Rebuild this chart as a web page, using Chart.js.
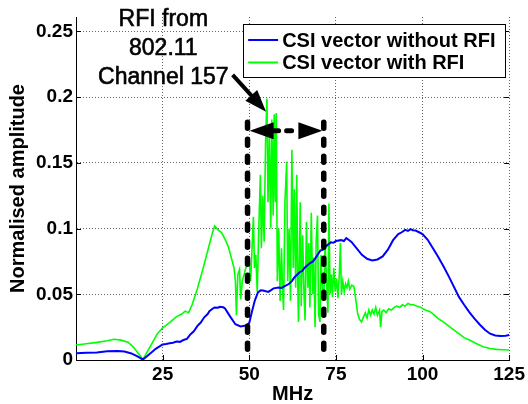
<!DOCTYPE html>
<html>
<head>
<meta charset="utf-8">
<script src="https://cdn.jsdelivr.net/npm/chart.js@4.4.1/dist/chart.umd.min.js"></script>
<style>
  html, body { margin: 0; padding: 0; background: #fff; }
  #wrap { width: 528px; height: 404px; position: relative; }
</style>
</head>
<body>
<div id="wrap"><canvas id="csi" width="528" height="404"></canvas></div>
<script>
// Frequency axis (MHz) and normalised CSI amplitude, channel without interference
const blueMHz = [0, 3, 6, 9, 12, 14, 16, 18, 19.3, 21, 23, 25, 26, 27, 28, 29, 30, 31, 32, 33, 34, 35, 36, 37, 38, 38.5, 39.5, 40, 41, 41.5, 42.5, 43, 44.5, 46, 47.5, 49, 50, 50.8, 51.6, 52.5, 53.3, 54, 55.5, 56.3, 57, 58.5, 59.3, 60, 61.5, 62.3, 63, 64.5, 65.3, 66, 67.5, 68.3, 69, 70.5, 71.3, 72, 73.5, 74.3, 75, 76.5, 77.3, 78, 79.5, 81, 82.5, 84, 85.5, 87, 88.5, 90, 91.5, 93, 94, 95, 95.8, 96.5, 97.2, 98, 99, 100, 101.5, 103, 104.5, 106, 107.5, 109, 110.5, 112, 113.5, 115, 116.5, 118, 119.5, 121, 122.5, 124, 125];
const blueAmp = [0.0052, 0.0055, 0.0058, 0.0066, 0.0068, 0.0064, 0.0050, 0.0024, 0.0003, 0.0040, 0.0085, 0.0118, 0.0122, 0.0128, 0.0131, 0.0140, 0.0138, 0.0152, 0.0160, 0.0195, 0.0218, 0.0258, 0.0285, 0.0325, 0.0350, 0.0372, 0.0392, 0.0400, 0.0398, 0.0405, 0.0401, 0.0392, 0.0330, 0.0272, 0.0255, 0.0262, 0.0282, 0.0370, 0.0452, 0.0515, 0.0530, 0.0528, 0.0518, 0.0532, 0.0545, 0.0552, 0.0548, 0.0558, 0.0580, 0.0600, 0.0628, 0.0668, 0.0678, 0.0702, 0.0738, 0.0748, 0.0772, 0.0832, 0.0840, 0.0862, 0.0895, 0.0892, 0.0905, 0.0912, 0.0905, 0.0928, 0.0898, 0.0850, 0.0800, 0.0770, 0.0758, 0.0765, 0.0788, 0.0840, 0.0912, 0.0958, 0.0972, 0.0990, 0.0982, 0.0996, 0.0988, 0.0985, 0.0972, 0.0958, 0.0915, 0.0850, 0.0785, 0.0715, 0.0640, 0.0560, 0.0480, 0.0420, 0.0365, 0.0315, 0.0270, 0.0230, 0.0200, 0.0186, 0.0182, 0.0185, 0.0190];

// Same link with 802.11 channel 157 interference
const greenMHz = [0, 3, 6, 9, 11, 13, 15, 16.5, 18, 19.3, 20.5, 22, 23.5, 25, 27, 29, 30.5, 31.5, 32.5, 33.5, 35, 36.5, 38, 39.3, 40, 41, 42, 43, 44, 45, 45.6, 46, 46.3, 46.7, 47.2, 47.5, 48, 49,
  50, 50.4, 50.8, 51.2, 51.5, 51.9, 52.3, 52.7, 53.2, 53.5, 53.9, 54.3, 54.7, 55.1, 55.4, 55.8, 56.2, 56.5, 56.9, 57.2, 57.5, 57.8, 58.1, 58.5, 58.9, 59.3, 59.6, 59.9, 60.3, 60.8, 61.1, 61.5, 61.9, 62.3, 62.7, 63.0, 63.4, 63.7, 64.0, 64.2, 64.7, 65.0, 65.4, 65.8, 66.1, 66.5, 66.9, 67.2, 67.5, 67.9, 68.3, 68.6, 69.0, 69.3, 69.7, 70.0, 70.4, 70.7, 71.1, 71.5, 71.9, 72.3, 72.7, 73.0, 73.3, 73.7, 74.0, 74.4, 74.8, 75.2, 75.6, 76.0, 76.3, 76.6, 77.0, 77.4, 77.8, 78.2, 78.6, 79.0, 79.6, 80.2, 80.8, 81.3, 81.8, 82.4, 83.0, 83.5, 84.0, 84.5, 85.0, 85.5, 86.0, 86.5, 87.0, 87.6, 87.9, 88.3, 88.8, 89.5, 90.2, 91.0, 91.8, 92.6, 93.4, 94.2, 95.0, 95.8, 96.6, 97.4, 98.3, 99.5, 100.8, 102.2, 103.5, 104.8, 106, 107.5, 109, 110.5, 112, 113.7, 115.5, 117.5, 119.5, 121.4, 123.2, 125];
const greenAmp = [0.0114, 0.0124, 0.0134, 0.0147, 0.0158, 0.0151, 0.0136, 0.0100, 0.0050, 0.0005, 0.0060, 0.0130, 0.0200, 0.0245, 0.0285, 0.0330, 0.0350, 0.0372, 0.0360, 0.0420, 0.0540, 0.0680, 0.0830, 0.0960, 0.1020, 0.0990, 0.0970, 0.0920, 0.0860, 0.0760, 0.0700, 0.0600, 0.0340, 0.0650, 0.0690, 0.0460, 0.0600, 0.0700,
  0.0750, 0.0600, 0.0850, 0.1090, 0.0700, 0.0800, 0.0520, 0.0950, 0.1410, 0.0850, 0.1250, 0.0900, 0.1650, 0.1990, 0.1200, 0.1700, 0.1000, 0.1830, 0.1100, 0.1870, 0.1200, 0.1880, 0.0600, 0.1000, 0.0450, 0.0850, 0.0550, 0.0380, 0.1200, 0.1510, 0.0600, 0.1000, 0.0450, 0.1600, 0.0700, 0.1300, 0.0550, 0.1410, 0.0600, 0.0290, 0.1200, 0.0410, 0.0950, 0.0500, 0.0300, 0.1050, 0.0550, 0.0890, 0.0400, 0.1120, 0.0500, 0.0780, 0.0250, 0.0900, 0.1100, 0.0350, 0.0290, 0.0800, 0.0550, 0.0450, 0.0900, 0.0600, 0.0360, 0.1190, 0.0500, 0.0650, 0.0480, 0.0700, 0.0520, 0.0620, 0.0470, 0.0660, 0.0890, 0.0500, 0.0600, 0.0520, 0.0580, 0.0550, 0.0600, 0.0540, 0.0570, 0.0560, 0.0450, 0.0350, 0.0310, 0.0290, 0.0330, 0.0360, 0.0320, 0.0380, 0.0340, 0.0380, 0.0350, 0.0400, 0.0340, 0.0380, 0.0250, 0.0370, 0.0380, 0.0360, 0.0390, 0.0380, 0.0400, 0.0410, 0.0400, 0.0420, 0.0410, 0.0430, 0.0420, 0.0420, 0.0410, 0.0400, 0.0380, 0.0368, 0.0340, 0.0310, 0.0290, 0.0260, 0.0230, 0.0200, 0.0170, 0.0150, 0.0125, 0.0101, 0.0088, 0.0081, 0.0078, 0.0076];

const seriesNames = ['CSI vector without RFI', 'CSI vector with RFI'];

// Axis ticks
const xTickValues = [25, 50, 75, 100, 125];
const xTickLabels = ['25', '50', '75', '100', '125'];
const yTickValues = [0, 0.05, 0.1, 0.15, 0.2, 0.25];
const yTickLabels = ['0', '0.05', '0.1', '0.15', '0.2', '0.25'];

// Interference band annotation (data units)
const rfiBand = [49.5, 71.5];
const rfiBandSpan = [0.0015, 0.181];
const rfiSpanArrow = [50.1, 71.1, 0.1745];
const calloutLines = ['RFI from', '802.11', 'Channel 157'];
const calloutAnchor = [25.2, 0.2542];
const calloutPointer = [45.2, 0.2169, 54.85, 0.1889];

const toPoints = (xs, ys) => xs.map((x, i) => ({ x: x, y: ys[i] }));

function arrowHead(ctx, tx, ty, ang, len, half) {
  const bx = tx - len * Math.cos(ang), by = ty - len * Math.sin(ang);
  ctx.beginPath();
  ctx.moveTo(tx, ty);
  ctx.lineTo(bx + half * Math.sin(ang), by - half * Math.cos(ang));
  ctx.lineTo(bx - half * Math.sin(ang), by + half * Math.cos(ang));
  ctx.closePath();
  ctx.fill();
}

const plotExtras = {
  id: 'plotExtras',
  afterDatasetsDraw(chart) {
    const ctx = chart.ctx;
    const xs = chart.scales.x, ys = chart.scales.y;
    const area = chart.chartArea;
    ctx.save();

    // inward tick marks
    ctx.strokeStyle = '#000';
    ctx.lineWidth = 1;
    ctx.beginPath();
    yTickValues.forEach(v => {
      const py = Math.round(ys.getPixelForValue(v)) + 0.5;
      ctx.moveTo(area.left, py); ctx.lineTo(area.left + 5, py);
      ctx.moveTo(area.right, py); ctx.lineTo(area.right - 5, py);
    });
    xTickValues.forEach(v => {
      const px = Math.round(xs.getPixelForValue(v)) + 0.5;
      ctx.moveTo(px, area.bottom); ctx.lineTo(px, area.bottom - 5);
    });
    ctx.stroke();

    // dashed band edges
    ctx.strokeStyle = '#000';
    ctx.fillStyle = '#000';
    ctx.lineWidth = 5.5;
    ctx.lineCap = 'round';
    ctx.setLineDash([6, 11]);
    rfiBand.forEach(v => {
      const px = xs.getPixelForValue(v);
      ctx.beginPath();
      ctx.moveTo(px, ys.getPixelForValue(rfiBandSpan[1]));
      ctx.lineTo(px, ys.getPixelForValue(rfiBandSpan[0]));
      ctx.stroke();
    });

    // double-headed span arrow
    const ax1 = xs.getPixelForValue(rfiSpanArrow[0]);
    const ax2 = xs.getPixelForValue(rfiSpanArrow[1]);
    const ay = ys.getPixelForValue(rfiSpanArrow[2]);
    ctx.lineWidth = 5;
    ctx.setLineDash([5, 8]);
    ctx.beginPath();
    ctx.moveTo(ax1 + 24, ay);
    ctx.lineTo(ax2 - 24, ay);
    ctx.stroke();
    ctx.setLineDash([]);
    arrowHead(ctx, ax1, ay, Math.PI, 24, 8.5);
    arrowHead(ctx, ax2, ay, 0, 24, 8.5);

    // callout pointer
    const p1x = xs.getPixelForValue(calloutPointer[0]), p1y = ys.getPixelForValue(calloutPointer[1]);
    const p2x = xs.getPixelForValue(calloutPointer[2]), p2y = ys.getPixelForValue(calloutPointer[3]);
    const ang = Math.atan2(p2y - p1y, p2x - p1x);
    ctx.lineWidth = 4;
    ctx.lineCap = 'butt';
    ctx.beginPath();
    ctx.moveTo(p1x, p1y);
    ctx.lineTo(p2x - 18 * Math.cos(ang), p2y - 18 * Math.sin(ang));
    ctx.stroke();
    arrowHead(ctx, p2x, p2y, ang, 22, 8);

    // callout text (slightly heavy stroke like the plotted annotation font)
    ctx.font = '23px "Liberation Sans", Arial, sans-serif';
    ctx.textAlign = 'center';
    ctx.textBaseline = 'alphabetic';
    ctx.lineWidth = 0.6;
    ctx.strokeStyle = '#000';
    const cx = xs.getPixelForValue(calloutAnchor[0]);
    const cy = ys.getPixelForValue(calloutAnchor[1]);
    calloutLines.forEach((t, i) => {
      ctx.fillText(t, cx, cy + i * 29);
      ctx.strokeText(t, cx, cy + i * 29);
    });

    // legend box
    const lx = area.right - 266, ly = area.top + 7, lw = 262, lh = 53;
    ctx.fillStyle = '#fff';
    ctx.fillRect(lx, ly, lw, lh);
    ctx.strokeStyle = '#000';
    ctx.lineWidth = 1;
    ctx.strokeRect(Math.round(lx) + 0.5, Math.round(ly) + 0.5, lw, lh);
    ctx.font = 'bold 20px "Liberation Sans", Arial, sans-serif';
    ctx.textAlign = 'left';
    ctx.textBaseline = 'middle';
    chart.data.datasets.forEach((ds, i) => {
      const rowY = ly + 16 + i * 22.5;
      ctx.strokeStyle = ds.borderColor;
      ctx.lineWidth = 2;
      ctx.beginPath();
      ctx.moveTo(lx + 5, rowY);
      ctx.lineTo(lx + 35, rowY);
      ctx.stroke();
      ctx.fillStyle = '#000';
      ctx.fillText(ds.label, lx + 39, rowY + 1);
    });

    ctx.restore();
  }
};

Chart.defaults.font.family = '"Liberation Sans", Arial, sans-serif';
Chart.defaults.color = '#000';

new Chart(document.getElementById('csi'), {
  type: 'line',
  data: {
    datasets: [
      { label: seriesNames[0], data: toPoints(blueMHz, blueAmp), borderColor: '#0000ff', borderWidth: 2, pointRadius: 0, tension: 0, fill: false },
      { label: seriesNames[1], data: toPoints(greenMHz, greenAmp), borderColor: '#00ff00', borderWidth: 1.6, pointRadius: 0, tension: 0, fill: false }
    ]
  },
  options: {
    responsive: false,
    animation: false,
    events: [],
    layout: { padding: { top: 17, right: 17, left: 0, bottom: 0 } },
    plugins: { legend: { display: false }, tooltip: { enabled: false } },
    scales: {
      x: {
        type: 'linear', min: 0, max: 125,
        afterBuildTicks: s => { s.ticks = xTickValues.map(v => ({ value: v })); },
        afterFit: s => { s.height = 44; },
        ticks: {
          autoSkip: false, maxRotation: 0, padding: 3,
          font: { size: 19, weight: 'bold' },
          callback: (v) => xTickLabels[xTickValues.indexOf(v)]
        },
        grid: { color: '#666', lineWidth: 1, drawTicks: false },
        border: { display: true, color: '#000', width: 1, dash: [1, 2] },
        title: { display: true, text: 'MHz', font: { size: 20, weight: 'bold', lineHeight: 1 }, padding: { top: 0, bottom: 0 } }
      },
      y: {
        type: 'linear', min: 0, max: 0.261,
        afterBuildTicks: s => { s.ticks = yTickValues.map(v => ({ value: v })); },
        afterFit: s => { s.width = 76; },
        ticks: {
          autoSkip: false, padding: 3,
          font: { size: 19, weight: 'bold' },
          callback: (v) => yTickLabels[yTickValues.indexOf(v)]
        },
        grid: { color: '#666', lineWidth: 1, drawTicks: false },
        border: { display: true, color: '#000', width: 1, dash: [1, 2] },
        title: { display: true, text: 'Normalised amplitude', font: { size: 20, weight: 'bold' }, padding: { top: 6, bottom: 0 } }
      }
    }
  },
  plugins: [plotExtras]
});
</script>
</body>
</html>
